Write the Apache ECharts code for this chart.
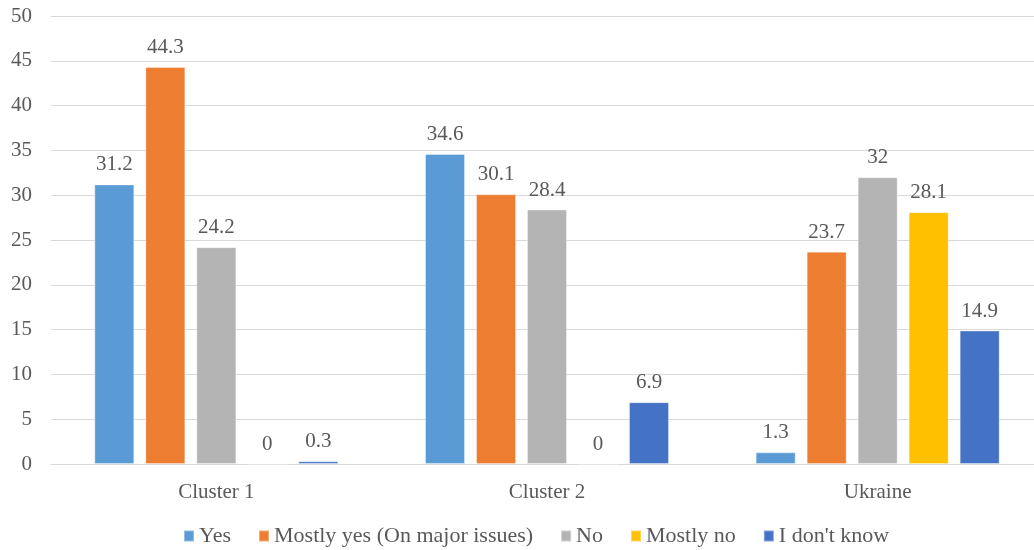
<!DOCTYPE html>
<html>
<head>
<meta charset="utf-8">
<script src="https://cdn.jsdelivr.net/npm/echarts@6/dist/echarts.min.js"></script>
<style>html,body{margin:0;padding:0;background:#fff;overflow:hidden;width:1034px;height:550px}#c{width:1060px;height:550px}</style>
</head>
<body>
<div id="c"></div>
<script>
const categories = ["Cluster 1", "Cluster 2", "Ukraine"];
const seriesNames = ["Yes", "Mostly yes (On major issues)", "No", "Mostly no", "I don't know"];
const yesValues = [31.2, 34.6, 1.3];
const mostlyYesValues = [44.3, 30.1, 23.7];
const noValues = [24.2, 28.4, 32];
const mostlyNoValues = [0, 0, 28.1];
const dontKnowValues = [0.3, 6.9, 14.9];
const colors = ["#5B9BD5", "#ED7D31", "#B4B4B4", "#FFC000", "#4472C4"];
const allValues = [yesValues, mostlyYesValues, noValues, mostlyNoValues, dontKnowValues];

const font = "'Liberation Serif', 'Times New Roman', serif";
const txt = "#595959";

const chart = echarts.init(document.getElementById('c'));
chart.setOption({
  animation: false,
  textStyle: { fontFamily: font },
  grid: { left: 51, width: 992, top: 16, height: 448, containLabel: false },
  legend: {
    top: 525,
    left: 183,
    padding: 0,
    itemWidth: 10,
    itemHeight: 11,
    itemGap: 27,
    icon: 'rect',
    textStyle: { fontFamily: font, fontSize: 22, color: txt },
    data: seriesNames
  },
  xAxis: {
    type: 'category',
    data: categories,
    axisLine: { show: true, lineStyle: { color: '#D9D9D9', width: 1 } },
    axisTick: { show: false },
    axisLabel: { fontFamily: font, fontSize: 21, color: txt, margin: 18 }
  },
  yAxis: {
    type: 'value',
    min: 0, max: 50, interval: 5,
    axisLine: { show: false },
    axisTick: { show: false },
    splitLine: { lineStyle: { color: '#D9D9D9', width: 1 } },
    axisLabel: { fontFamily: font, fontSize: 21, color: txt, margin: 19 }
  },
  series: seriesNames.map((name, i) => ({
    name: name,
    type: 'bar',
    data: allValues[i],
    barWidth: 40,
    barGap: '27.5%',
    itemStyle: { color: colors[i], borderColor: 'rgba(255,255,255,0.35)', borderWidth: 1 },
    label: {
      show: true,
      position: 'top',
      distance: 9,
      fontFamily: font,
      fontSize: 21,
      color: txt
    }
  }))
});
</script>
</body>
</html>
